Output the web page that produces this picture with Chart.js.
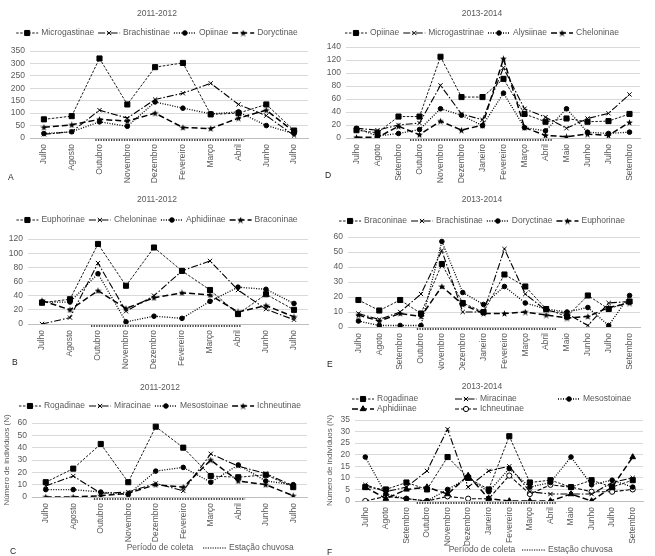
<!DOCTYPE html>
<html>
<head>
<meta charset="utf-8">
<script src="https://cdn.jsdelivr.net/npm/chart.js@4.4.1/dist/chart.umd.min.js"></script>
<style>
  html, body { margin:0; padding:0; background:#fff; }
  #wrap { position:relative; width:655px; height:556px; overflow:hidden; background:#fff; }
  canvas { position:absolute; }
</style>
</head>
<body>
<div id="wrap">
  <canvas id="cA" width="322" height="185" style="left:0;top:0"></canvas>
  <canvas id="cD" width="333" height="185" style="left:322px;top:0"></canvas>
  <canvas id="cB" width="322" height="185" style="left:0;top:185px"></canvas>
  <canvas id="cE" width="333" height="185" style="left:322px;top:185px"></canvas>
  <canvas id="cC" width="322" height="186" style="left:0;top:370px"></canvas>
  <canvas id="cF" width="333" height="186" style="left:322px;top:370px"></canvas>
</div>
<script>
// ---------- categories ----------
const months1 = ['Julho','Agosto','Outubro','Novembro','Dezembro','Fevereiro','Março','Abril','Junho','Julho'];
const months2 = ['Julho','Agoto','Setembro','Outubro','Novembro','Dezembro','Janeiro','Fevereiro','Março','Abril','Maio','Junho','Julho','Setembro'];

// ---------- tick labels ----------
const ticksA = [0,50,100,150,200,250,300,350];
const ticksD = [0,20,40,60,80,100,120,140];
const ticksB = [0,20,40,60,80,100,120];
const ticksE = [0,10,20,30,40,50,60];
const ticksC = [0,10,20,30,40,50,60];
const ticksF = [0,5,10,15,20,25,30,35];

// ---------- panel A (2011-2012) ----------
const microgastinaeA = [75, 88, 320, 135, 285, 302, 95, 100, 135, 30];
const brachistinaeA  = [15, 25, 112, 80, 155, 180, 220, 135, 90, 10];
const opiinaeA       = [18, 25, 65, 47, 145, 120, 97, 105, 50, 18];
const doryctinaeA    = [43, 53, 75, 68, 100, 42, 38, 80, 112, 25];

// ---------- panel D (2013-2014) ----------
const opiinaeD        = [12, 8, 33, 33, 125, 63, 63, 91, 37, 25, 30, 25, 26, 37];
const microgastrinaeD = [15, 12, 20, 23, 81, 37, 28, 108, 45, 32, 15, 30, 38, 67];
const alysiinaeD      = [15, 3, 7, 13, 45, 35, 19, 69, 16, 11, 45, 9, 7, 9];
const cheloninaeD     = [1, 1, 18, 5, 26, 12, 20, 122, 16, 4, 2, 6, 4, 24];

// ---------- panel B (2011-2012) ----------
const euphorinaeB = [30, 35, 113, 54, 108, 75, 48, 14, 42, 20];
const cheloninaeB = [0, 9, 86, 18, 40, 75, 89, 48, 21, 6];
const aphidiinaeB = [31, 31, 71, 3, 11, 8, 32, 52, 49, 29];
const braconinaeB = [33, 20, 47, 22, 37, 44, 41, 17, 26, 10];

// ---------- panel E (2013-2014) ----------
const braconinaeE   = [18, 11, 18, 9, 42, 16, 10, 35, 27, 12, 7, 21, 12, 17];
const brachistinaeE = [9, 5, 10, 22, 51, 10, 10, 52, 22, 11, 9, 1, 16, 17];
const doryctinaeE   = [4, 1, 1, 1, 57, 23, 15, 27, 16, 12, 10, 13, 1, 21];
const euphorinaeE   = [8, 4, 9, 7, 27, 15, 9, 9, 10, 8, 6, 7, 13, 16];

// ---------- panel C (2011-2012) ----------
const rogadinaeC   = [12, 23, 43, 12, 57, 40, 17, 16, 18, 8];
const miracinaeC   = [9, 17, 3, 4, 11, 5, 35, 25, 19, 9];
const mesostoinaeC = [6, 6, 4, 2, 21, 24, 12, 26, 13, 10];
const ichneutinaeC = [0, 0, 1, 3, 10, 8, 30, 13, 10, 1];

// ---------- panel F (2013-2014) ----------
const rogadinaeF   = [6, 5, 8, 5, 19, 10, 5, 28, 8, 9, 6, 9, 6, 9];
const miracinaeF   = [7, 4, 6, 13, 31, 6, 13, 15, 4, 3, 3, 3, 8, 10];
const mesostoinaeF = [19, 3, 1, 0, 5, 10, 4, 14, 6, 8, 19, 7, 9, 6];
const aphidiinaeF  = [6, 1, 5, 6, 3, 11, 1, 0, 0, 0, 3, 0, 6, 19];
const ichneutinaeF = [0, 2, 1, 0, 2, 1, 1, 11, 3, 7, 6, 4, 4, 5];

// ---------- styles ----------
const FONT = '"Liberation Sans", Arial, sans-serif';
const TXT = '#595959';

const starImg = (function(){
  const c = document.createElement('canvas'); c.width = 7; c.height = 7;
  const g = c.getContext('2d'); g.fillStyle = '#000'; g.beginPath();
  for (let i = 0; i < 10; i++) {
    const r = i % 2 === 0 ? 3.5 : 1.5;
    const a = -Math.PI/2 + i * Math.PI/5;
    const px = 3.5 + r*Math.cos(a), py = 3.8 + r*Math.sin(a);
    if (i === 0) g.moveTo(px, py); else g.lineTo(px, py);
  }
  g.closePath(); g.fill(); return c;
})();

const ST = {
  sq:   {borderDash:[2.5,1.5], borderWidth:0.9, pointStyle:'rect', pointRadius:3.6},
  x:    {borderDash:[7,2,1.5,2], borderWidth:1.1, pointStyle:'crossRot', pointRadius:3},
  circ: {borderDash:[1,1.5], borderWidth:1.3, pointStyle:'circle', pointRadius:2.3},
  star: {borderDash:[6,3], borderWidth:1.5, pointStyle:starImg, pointRadius:3.5},
  tri:  {borderDash:[6,3], borderWidth:1.5, pointStyle:'triangle', pointRadius:3.3},
  ocirc:{borderDash:[4,2], borderWidth:1.1, pointStyle:'circle', pointRadius:2.6, pointBackgroundColor:'#fff'}
};

function ds(label, data, st) {
  return Object.assign({
    label, data,
    borderColor:'#000', backgroundColor:'#000',
    pointBackgroundColor:'#000', pointBorderColor:'#000', pointBorderWidth:1,
    pointHoverRadius: st.pointRadius, tension:0, fill:false
  }, st);
}

function drawSample(ctx, d, x, y, w) {
  ctx.save();
  ctx.strokeStyle = '#000'; ctx.lineWidth = d.borderWidth; ctx.setLineDash(d.borderDash || []);
  ctx.beginPath(); ctx.moveTo(x, y); ctx.lineTo(x + w, y); ctx.stroke();
  ctx.setLineDash([]);
  ctx.fillStyle = d.pointBackgroundColor || '#000'; ctx.strokeStyle = '#000'; ctx.lineWidth = 1;
  Chart.helpers.drawPoint(ctx, {pointStyle:d.pointStyle, radius:d.pointRadius, rotation:0, borderWidth:1}, x + w/2, y);
  ctx.restore();
}

const decorPlugin = {
  id: 'decor',
  afterDraw(chart) {
    const o = chart.options.plugins.decor; if (!o) return;
    const ctx = chart.ctx; const xs = chart.scales.x;
    ctx.save();
    ctx.font = '8.5px ' + FONT; ctx.fillStyle = TXT; ctx.textBaseline = 'middle';
    // title
    ctx.textAlign = 'center'; ctx.fillText(o.title, o.titleX, o.titleY);
    // legend
    const SW = 22, G = 3, IG = 4;
    const dsets = chart.data.datasets;
    ctx.textAlign = 'left';
    if (o.legendPos) {
      o.legendPos.forEach((p, i) => {
        drawSample(ctx, dsets[i], p[0], p[1], SW);
        ctx.fillStyle = TXT; ctx.fillText(dsets[i].label, p[0] + SW + G, p[1]);
      });
    } else {
      let tot = 0; const ws = dsets.map(d => ctx.measureText(d.label).width);
      ws.forEach(w => tot += SW + G + w); tot += IG * (ws.length - 1);
      let x = o.titleX - tot/2;
      dsets.forEach((d, i) => {
        drawSample(ctx, d, x, o.legendY, SW);
        ctx.fillStyle = TXT; ctx.fillText(d.label, x + SW + G, o.legendY);
        x += SW + G + ws[i] + IG;
      });
    }
    // letter
    ctx.fillStyle = '#222'; ctx.font = '8.5px ' + FONT;
    ctx.fillText(o.letter, o.letterX, o.letterY);
    // rainy season line
    const step = xs.getPixelForValue(1) - xs.getPixelForValue(0);
    const x0 = xs.getPixelForValue(o.rainFrom[0]) + o.rainFrom[1] * step;
    const x1 = xs.getPixelForValue(o.rainTo[0]) + o.rainTo[1] * step;
    const yb = chart.chartArea.bottom + 2;
    ctx.strokeStyle = '#444'; ctx.lineWidth = 2; ctx.setLineDash([1.3, 1.3]);
    ctx.beginPath(); ctx.moveTo(x0, yb); ctx.lineTo(x1, yb); ctx.stroke();
    ctx.setLineDash([]);
    // axis titles (bottom row only)
    if (o.yTitle) {
      ctx.save(); ctx.translate(o.yTitleX, (chart.chartArea.top + chart.chartArea.bottom)/2);
      ctx.rotate(-Math.PI/2); ctx.textAlign = 'center'; ctx.fillStyle = TXT; ctx.font = '8px ' + FONT;
      ctx.fillText(o.yTitle, 0, 0); ctx.restore();
      ctx.textAlign = 'center'; ctx.fillStyle = TXT; ctx.font = '8.5px ' + FONT;
      ctx.fillText('Período de coleta', o.xTitleX, o.xTitleY);
      ctx.strokeStyle = '#555'; ctx.lineWidth = 1.5; ctx.setLineDash([1.2, 1.2]);
      ctx.beginPath(); ctx.moveTo(o.keyX, o.xTitleY); ctx.lineTo(o.keyX + 23, o.xTitleY); ctx.stroke();
      ctx.setLineDash([]);
      ctx.textAlign = 'left'; ctx.fillText('Estação chuvosa', o.keyX + 26, o.xTitleY);
    }
    ctx.restore();
  }
};

function makeChart(id, labels, datasets, ticks, geo, decor) {
  const cv = document.getElementById(id);
  const W = cv.width, H = cv.height;
  return new Chart(cv, {
    type: 'line',
    data: { labels, datasets },
    plugins: [decorPlugin],
    options: {
      responsive:false, animation:false, devicePixelRatio:1,
      layout: { padding: { top: geo.top, right: W - geo.right, left: 0, bottom: 0 } },
      plugins: { legend:{display:false}, title:{display:false}, tooltip:{enabled:false}, decor },
      scales: {
        x: {
          offset:true,
          grid:{ display:false, drawTicks:false },
          border:{ display:true, color:'#bfbfbf', width:1 },
          ticks:{ autoSkip:false, minRotation:90, maxRotation:90, color:TXT, padding:6, font:{ family:FONT, size:8.5 } },
          afterFit(s) { s.height = H - geo.bottom; }
        },
        y: {
          min: ticks[0], max: ticks[ticks.length-1],
          grid:{ color:'#d9d9d9', drawTicks:false, lineWidth:1 },
          border:{ display:false },
          ticks:{ autoSkip:false, stepSize: ticks[1] - ticks[0], color:TXT, padding:5, font:{ family:FONT, size:8.5 } },
          afterBuildTicks(s) { s.ticks = ticks.map(v => ({value:v})); },
          afterFit(s) { s.width = geo.left; }
        }
      }
    }
  });
}

// A
makeChart('cA', months1, [
  ds('Microgastinae', microgastinaeA, ST.sq),
  ds('Brachistinae', brachistinaeA, ST.x),
  ds('Opiinae', opiinaeA, ST.circ),
  ds('Doryctinae', doryctinaeA, ST.star)
], ticksA, {left:30, right:308, top:51, bottom:138},
{ title:'2011-2012', titleX:157, titleY:14, legendY:33, letter:'A', letterX:8, letterY:178,
  rainFrom:[2,-0.15], rainTo:[7,0.2] });

// D
makeChart('cD', months2, [
  ds('Opiinae', opiinaeD, ST.sq),
  ds('Microgastrinae', microgastrinaeD, ST.x),
  ds('Alysiinae', alysiinaeD, ST.circ),
  ds('Cheloninae', cheloninaeD, ST.star)
], ticksD, {left:24, right:318, top:47, bottom:138},
{ title:'2013-2014', titleX:160, titleY:14, legendY:33, letter:'D', letterX:3, letterY:176,
  rainFrom:[3,-0.45], rainTo:[9,0.3] });

// B
makeChart('cB', months1, [
  ds('Euphorinae', euphorinaeB, ST.sq),
  ds('Cheloninae', cheloninaeB, ST.x),
  ds('Aphidiinae', aphidiinaeB, ST.circ),
  ds('Braconinae', braconinaeB, ST.star)
], ticksB, {left:28, right:308, top:54, bottom:139},
{ title:'2011-2012', titleX:157, titleY:15, legendY:35, letter:'B', letterX:12, letterY:178,
  rainFrom:[2,-0.25], rainTo:[7,0.1] });

// E
makeChart('cE', months2, [
  ds('Braconinae', braconinaeE, ST.sq),
  ds('Brachistinae', brachistinaeE, ST.x),
  ds('Doryctinae', doryctinaeE, ST.circ),
  ds('Euphorinae', euphorinaeE, ST.star)
], ticksE, {left:26, right:318, top:52, bottom:142},
{ title:'2013-2014', titleX:160, titleY:15, legendY:36, letter:'E', letterX:5, letterY:180,
  rainFrom:[3,-0.2], rainTo:[9,0.5] });

// C
makeChart('cC', months1, [
  ds('Rogadinae', rogadinaeC, ST.sq),
  ds('Miracinae', miracinaeC, ST.x),
  ds('Mesostoinae', mesostoinaeC, ST.circ),
  ds('Ichneutinae', ichneutinaeC, ST.star)
], ticksC, {left:32, right:307, top:53, bottom:127},
{ title:'2011-2012', titleX:160, titleY:18, legendY:36, letter:'C', letterX:10, letterY:182,
  rainFrom:[2,-0.25], rainTo:[7,0.25],
  yTitle:'Número de indivíduos (N)', yTitleX:7, xTitleX:160, xTitleY:178, keyX:203 });

// F
makeChart('cF', months2, [
  ds('Rogadinae', rogadinaeF, ST.sq),
  ds('Miracinae', miracinaeF, ST.x),
  ds('Mesostoinae', mesostoinaeF, ST.circ),
  ds('Aphidiinae', aphidiinaeF, ST.tri),
  ds('Ichneutinae', ichneutinaeF, ST.ocirc)
], ticksF, {left:33, right:321, top:50, bottom:131},
{ title:'2013-2014', titleX:160, titleY:17, letter:'F', letterX:5, letterY:183,
  legendPos:[[30,29],[133,29],[236,29],[30,39],[133,39]],
  rainFrom:[3,-0.5], rainTo:[9,0.3],
  yTitle:'Número de indivíduos (N)', yTitleX:8, xTitleX:160, xTitleY:180, keyX:200 });
</script>
</body>
</html>
